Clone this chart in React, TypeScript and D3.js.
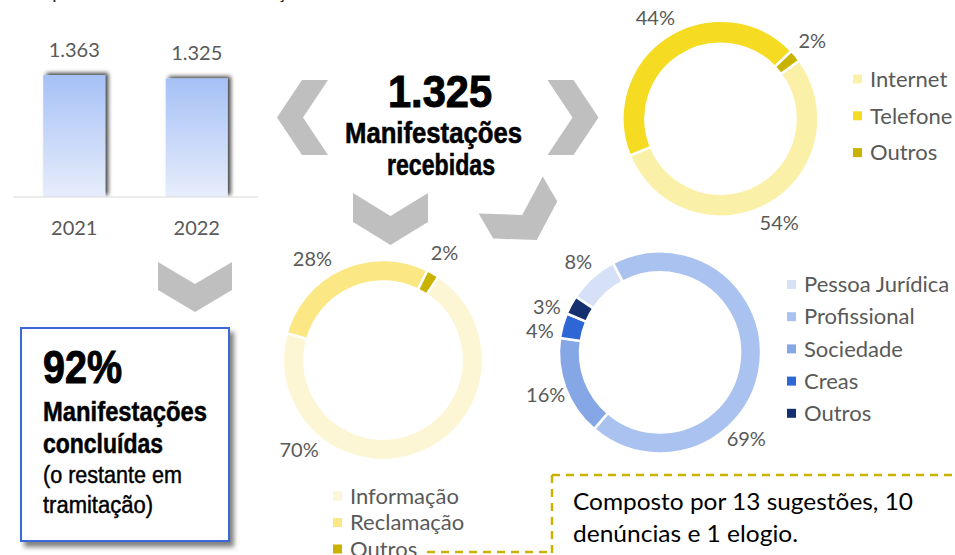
import React, { useRef, useEffect } from "react";
import * as d3 from "d3";

// headline numbers
const years = ["2021", "2022"];
const totals = [1363, 1325];
const recebidas = 1325;
const concluidas = 92;

// canal de entrada
const canalLabels = ["Internet", "Telefone", "Outros"];
const canalValues = [54, 44, 2];

// tipo de manifestação
const tipoLabels = ["Informação", "Reclamação", "Outros"];
const tipoValues = [70, 28, 2];

// perfil do manifestante
const perfilLabels = ["Pessoa Jurídica", "Profissional", "Sociedade", "Creas", "Outros"];
const perfilValues = [8, 69, 16, 4, 3];

const noteLines = ["Composto por 13 sugestões, 10", "denúncias e 1 elogio."];

const ptBR = d3.formatLocale({ decimal: ",", thousands: ".", grouping: [3], currency: ["R$", ""] });
const fmt = ptBR.format(",d");

const LABEL_FONT = "Lato, 'Open Sans', sans-serif";
const NARROW = "'Liberation Sans Narrow', 'Arial Narrow', 'Liberation Sans', Arial, sans-serif";
const GRAY = "#595959";
const CHEVRON = "#bfbfbf";

interface DonutOpts {
    labels: string[];
    values: number[];
    colors: string[];
    cx: number;
    cy: number;
    rOut: number;
    rIn: number;
    startDeg: number;
    labelR: number;
    labelDeg: (number | null)[];
    legendX: number;
    legendY: number;
    legendStep: number;
}

const App: React.FC = () => {
    const svgRef = useRef<SVGSVGElement>(null);

    useEffect(() => {
        if (!svgRef.current) return;
        const svg = d3.select(svgRef.current);
        svg.selectAll("*").remove();

        const defs = svg.append("defs");
        const grad = defs.append("linearGradient")
            .attr("id", "barGrad")
            .attr("x1", 0).attr("y1", 0).attr("x2", 0).attr("y2", 1);
        grad.append("stop").attr("offset", "0%").attr("stop-color", "#a6c1f6");
        grad.append("stop").attr("offset", "100%").attr("stop-color", "#e7edfb");

        defs.append("filter").attr("id", "barShadow")
            .attr("x", "-30%").attr("y", "-30%").attr("width", "160%").attr("height", "160%")
            .append("feDropShadow")
            .attr("dx", 3).attr("dy", -2).attr("stdDeviation", 2.2)
            .attr("flood-color", "#000").attr("flood-opacity", 0.75);

        defs.append("filter").attr("id", "boxShadow")
            .attr("x", "-10%").attr("y", "-10%").attr("width", "125%").attr("height", "125%")
            .append("feDropShadow")
            .attr("dx", 4).attr("dy", 5).attr("stdDeviation", 2.5)
            .attr("flood-color", "#000").attr("flood-opacity", 0.5);

        // partly cropped title at the very top
        svg.append("text")
            .attr("x", 14).attr("y", -1.5)
            .attr("font-family", LABEL_FONT).attr("font-size", 20)
            .attr("fill", "#222")
            .attr("textLength", 300).attr("lengthAdjust", "spacingAndGlyphs")
            .text("Comparativo anual de manifestações");

        // ---------- bar chart ----------
        const x = d3.scaleBand<string>()
            .domain(years)
            .range([13, 258])
            .paddingInner(0.494)
            .paddingOuter(0.247);
        const y = d3.scaleLinear().domain([0, 1363]).range([197, 75]);

        const bars = svg.append("g");
        bars.selectAll("rect")
            .data(years)
            .enter()
            .append("rect")
            .attr("x", d => x(d)!)
            .attr("width", x.bandwidth())
            .attr("y", (d, i) => y(totals[i]))
            .attr("height", (d, i) => y(0) - y(totals[i]))
            .attr("fill", "url(#barGrad)")
            .attr("filter", "url(#barShadow)");

        bars.append("rect")
            .attr("x", 0).attr("y", y(0))
            .attr("width", 270).attr("height", 10)
            .attr("fill", "#fff");

        bars.append("line")
            .attr("x1", 13).attr("x2", 258)
            .attr("y1", y(0)).attr("y2", y(0))
            .attr("stroke", "#d9d9d9").attr("stroke-width", 1.2);

        bars.selectAll("text.val")
            .data(years)
            .enter()
            .append("text")
            .attr("class", "val")
            .attr("x", d => x(d)! + x.bandwidth() / 2)
            .attr("y", (d, i) => y(totals[i]) - 18)
            .attr("text-anchor", "middle")
            .attr("font-family", LABEL_FONT).attr("font-size", 20)
            .attr("fill", GRAY)
            .text((d, i) => fmt(totals[i]));

        bars.selectAll("text.yr")
            .data(years)
            .enter()
            .append("text")
            .attr("class", "yr")
            .attr("x", d => x(d)! + x.bandwidth() / 2)
            .attr("y", 235)
            .attr("text-anchor", "middle")
            .attr("font-family", LABEL_FONT).attr("font-size", 20)
            .attr("fill", GRAY)
            .text(d => d);

        // ---------- chevrons ----------
        const chevron = (cx: number, cy: number, w: number, h: number, t: number, rot: number) => {
            const pts: [number, number][] = [
                [-w / 2, 0], [0, h - t], [w / 2, 0], [w / 2, t], [0, h], [-w / 2, t]
            ];
            svg.append("polygon")
                .attr("points", pts.map(p => [p[0], p[1] - h / 2].join(",")).join(" "))
                .attr("transform", `translate(${cx},${cy}) rotate(${rot})`)
                .attr("fill", CHEVRON);
        };
        chevron(302.5, 117.5, 75, 51, 26, 90);
        chevron(573, 117.5, 75, 51, 26, -90);
        chevron(390.5, 219, 75, 52, 29, 0);
        chevron(523.7, 217.5, 74, 52, 29, -30);
        chevron(195, 287, 74, 50, 28, 0);

        // ---------- center headline ----------
        const narrow = (t: string, xx: number, yy: number, size: number, len: number, weight = "bold", thick = 0) =>
            svg.append("text")
                .attr("x", xx).attr("y", yy)
                .attr("font-family", NARROW).attr("font-size", size)
                .attr("font-weight", weight).attr("fill", "#000")
                .attr("stroke", thick > 0 ? "#000" : "none")
                .attr("stroke-width", thick)
                .attr("textLength", len).attr("lengthAdjust", "spacingAndGlyphs")
                .text(t);

        narrow(fmt(recebidas), 388, 106.5, 45, 104, "bold", 1);
        narrow("Manifestações", 345, 142.5, 30, 177, "bold", 0.6);
        narrow("recebidas", 387, 175, 30, 108, "bold", 0.6);

        // ---------- concluded box ----------
        svg.append("rect")
            .attr("x", 21).attr("y", 328)
            .attr("width", 208).attr("height", 213)
            .attr("fill", "#fff")
            .attr("stroke", "#3a6bd8").attr("stroke-width", 2)
            .attr("filter", "url(#boxShadow)");

        narrow(`${concluidas}%`, 43, 383, 46, 79, "bold", 1);
        narrow("Manifestações", 43, 421, 28, 164, "bold", 0.5);
        narrow("concluídas", 43, 452.5, 28, 120, "bold", 0.5);
        narrow("(o restante em", 43, 483, 23, 139, "normal", 0.45);
        narrow("tramitação)", 43, 513, 23, 110, "normal", 0.45);

        // ---------- donuts ----------
        const drawDonut = (o: DonutOpts) => {
            const g = svg.append("g").attr("transform", `translate(${o.cx},${o.cy})`);
            const start = (o.startDeg * Math.PI) / 180;
            const pie = d3.pie<number>()
                .sort(null)
                .startAngle(start)
                .endAngle(start + 2 * Math.PI);
            const arcs = pie(o.values);
            const arc = d3.arc<d3.PieArcDatum<number>>()
                .innerRadius(o.rIn)
                .outerRadius(o.rOut);

            g.selectAll("path")
                .data(arcs)
                .enter()
                .append("path")
                .attr("d", arc)
                .attr("fill", (d, i) => o.colors[i])
                .attr("stroke", "#fff")
                .attr("stroke-width", 2.5);

            g.selectAll("text")
                .data(arcs)
                .enter()
                .append("text")
                .attr("transform", (d, i) => {
                    const fixed = o.labelDeg[i];
                    const a = fixed != null ? (fixed * Math.PI) / 180 : (d.startAngle + d.endAngle) / 2;
                    return `translate(${o.labelR * Math.sin(a)},${-o.labelR * Math.cos(a)})`;
                })
                .attr("dy", "0.35em")
                .attr("text-anchor", "middle")
                .attr("font-family", LABEL_FONT).attr("font-size", 20)
                .attr("fill", GRAY)
                .text(d => `${d.data}%`);

            const leg = svg.append("g");
            o.labels.forEach((lab, i) => {
                const cy = o.legendY + i * o.legendStep;
                leg.append("rect")
                    .attr("x", o.legendX).attr("y", cy - 4.5)
                    .attr("width", 9).attr("height", 9)
                    .attr("fill", o.colors[i]);
                leg.append("text")
                    .attr("x", o.legendX + 17).attr("y", cy)
                    .attr("dy", "0.35em")
                    .attr("font-family", LABEL_FONT).attr("font-size", 22)
                    .attr("fill", GRAY)
                    .text(lab);
            });
        };

        drawDonut({
            labels: canalLabels, values: canalValues,
            colors: ["#fbf0a8", "#f5dc22", "#c9b300"],
            cx: 720.5, cy: 118.7, rOut: 98, rIn: 75, startDeg: 53.5,
            labelR: 120, labelDeg: [null, null, null],
            legendX: 853, legendY: 79, legendStep: 36.8
        });

        drawDonut({
            labels: tipoLabels, values: tipoValues,
            colors: ["#fdf6d4", "#fbe784", "#c9b300"],
            cx: 383, cy: 360, rOut: 100, rIn: 78.5, startDeg: 33.6,
            labelR: 123, labelDeg: [223, 325, null],
            legendX: 333, legendY: 496, legendStep: 26.5
        });

        drawDonut({
            labels: perfilLabels, values: perfilValues,
            colors: ["#d6e1f7", "#a9c2ef", "#86a7e6", "#2e66d6", "#14306e"],
            cx: 660, cy: 352.5, rOut: 101, rIn: 80, startDeg: 303.5,
            labelR: 122, labelDeg: [null, 135, null, 280, 292],
            legendX: 787, legendY: 284.5, legendStep: 32.2
        });

        // ---------- dashed note ----------
        const dash = svg.append("g")
            .attr("fill", "none")
            .attr("stroke", "#c9b300")
            .attr("stroke-width", 2.5)
            .attr("stroke-dasharray", "8,6");
        dash.append("path").attr("d", "M552,475 L955,475");
        dash.append("path").attr("d", "M552,475 L552,555");
        dash.append("path").attr("d", "M427,552 L552,552");

        const noteWidths = [340, 225];
        noteLines.forEach((line, i) => {
            svg.append("text")
                .attr("x", 573).attr("y", 510 + i * 32)
                .attr("font-family", LABEL_FONT).attr("font-size", 24)
                .attr("fill", "#000")
                .attr("textLength", noteWidths[i]).attr("lengthAdjust", "spacingAndGlyphs")
                .text(line);
        });
    }, []);

    return (
        <svg
            ref={svgRef}
            width={955}
            height={555}
            style={{ position: "absolute", left: 0, top: 0, background: "#fff" }}
        />
    );
};

export default App;
